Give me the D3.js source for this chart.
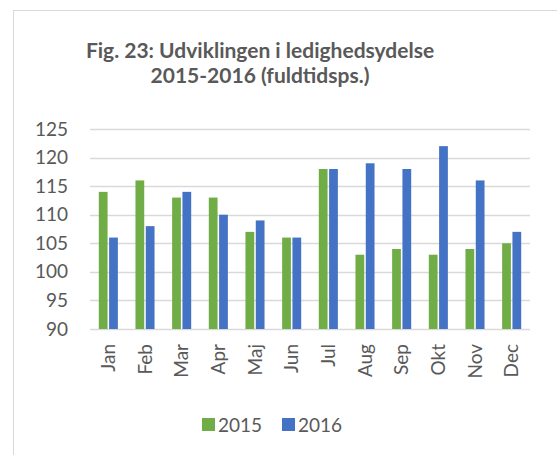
<!DOCTYPE html>
<html>
<head>
<meta charset="utf-8">
<script src="https://cdn.jsdelivr.net/npm/d3@7"></script>
<style>
  body { margin: 0; background: #fff; }
  text { font-family: Lato, "Open Sans", sans-serif; fill: #595959; }
</style>
</head>
<body>
<div id="chart"></div>
<script>
'use strict';

const months = ["Jan", "Feb", "Mar", "Apr", "Maj", "Jun", "Jul", "Aug", "Sep", "Okt", "Nov", "Dec"];
const series = ["2015", "2016"];
const values2015 = [114, 116, 113, 113, 107, 106, 118, 103, 104, 103, 104, 105];
const values2016 = [106, 108, 114, 110, 109, 106, 118, 119, 118, 122, 116, 107];
const yTicks = [90, 95, 100, 105, 110, 115, 120, 125];
const titleLines = ["Fig. 23: Udviklingen i ledighedsydelse", "2015-2016 (fuldtidsps.)"];

const colors = { "2015": "#70AD47", "2016": "#4472C4" };

const width = 557, height = 455;
const plot = { left: 90, right: 530, top: 129, bottom: 329 };

const svg = d3.select("#chart").append("svg")
    .attr("width", width)
    .attr("height", height);

// chart frame
svg.append("rect")
    .attr("x", 13.5).attr("y", 10.5)
    .attr("width", 600).attr("height", 500)
    .attr("fill", "none")
    .attr("stroke", "#D9D9D9")
    .attr("stroke-width", 1);

// title
svg.append("text")
    .attr("x", 260).attr("y", 58)
    .attr("text-anchor", "middle")
    .style("font-size", "21px")
    .style("font-weight", "bold")
    .selectAll("tspan")
    .data(titleLines)
    .enter()
    .append("tspan")
    .attr("x", 260)
    .attr("dy", (d, i) => i === 0 ? 0 : 25)
    .text(d => d);

const x = d3.scaleBand()
    .domain(months)
    .range([plot.left, plot.right])
    .paddingInner(0.48)
    .paddingOuter(0.24);

const x1 = d3.scaleBand()
    .domain(series)
    .range([0, x.bandwidth()])
    .paddingInner(0.15);

const y = d3.scaleLinear()
    .domain([90, 125])
    .range([plot.bottom, plot.top]);

// gridlines
svg.append("g")
    .selectAll("line")
    .data(yTicks)
    .enter()
    .append("line")
    .attr("x1", plot.left).attr("x2", plot.right)
    .attr("y1", d => Math.round(y(d)) + 0.5)
    .attr("y2", d => Math.round(y(d)) + 0.5)
    .attr("stroke", "#D9D9D9")
    .attr("stroke-width", 1.5);

// y axis labels
const yAxis = svg.append("g")
    .attr("transform", "translate(" + plot.left + ",0)")
    .call(d3.axisLeft(y).tickValues(yTicks).tickSize(0).tickPadding(22));
yAxis.select(".domain").remove();
yAxis.selectAll("text")
    .style("font-size", "19px")
    .attr("fill", "#595959");

// bars
const rows = months.map((m, i) => ({ month: m, "2015": values2015[i], "2016": values2016[i] }));

svg.append("g")
    .selectAll("g")
    .data(rows)
    .enter()
    .append("g")
    .attr("transform", d => "translate(" + x(d.month) + ",0)")
    .selectAll("rect")
    .data(d => series.map(s => ({ key: s, value: d[s] })))
    .enter()
    .append("rect")
    .attr("x", d => x1(d.key))
    .attr("y", d => y(d.value))
    .attr("width", x1.bandwidth())
    .attr("height", d => y(90) - y(d.value))
    .attr("fill", d => colors[d.key]);

// x axis labels (rotated)
const xAxis = svg.append("g")
    .attr("transform", "translate(0," + plot.bottom + ")")
    .call(d3.axisBottom(x).tickSize(0).tickPadding(0));
xAxis.select(".domain").remove();
xAxis.selectAll("text")
    .style("font-size", "19px")
    .attr("fill", "#595959")
    .attr("transform", "rotate(-90)")
    .attr("text-anchor", "end")
    .attr("x", -15)
    .attr("y", 0)
    .attr("dy", "0.35em");

// legend
const legend = svg.append("g")
    .selectAll("g")
    .data(series)
    .enter()
    .append("g")
    .attr("transform", (d, i) => "translate(" + (202 + i * 80) + ",418)");

legend.append("rect")
    .attr("width", 13).attr("height", 13)
    .attr("fill", d => colors[d]);

legend.append("text")
    .attr("x", 16).attr("y", 14)
    .style("font-size", "19px")
    .text(d => d);
</script>
</body>
</html>
